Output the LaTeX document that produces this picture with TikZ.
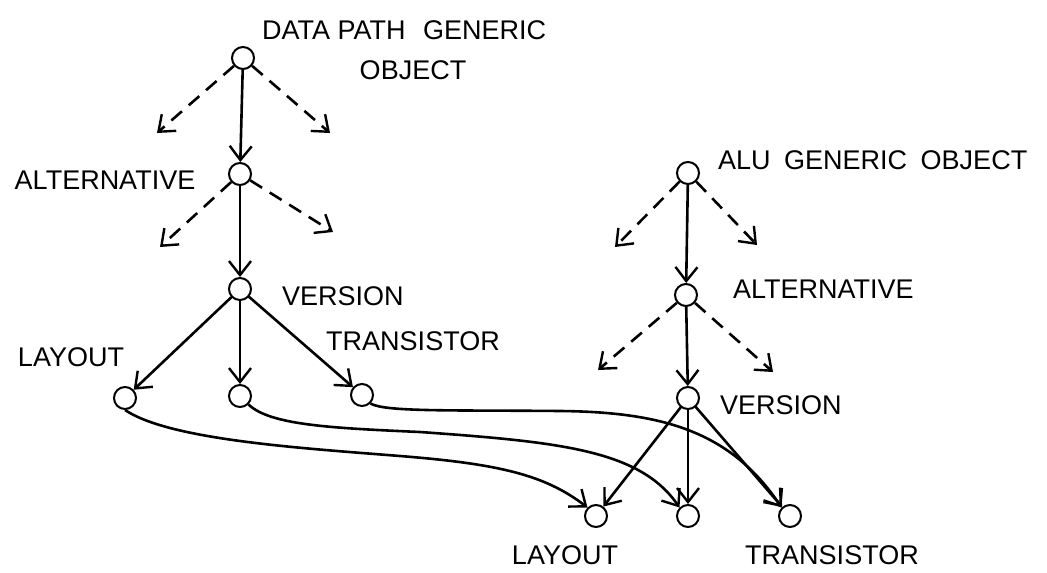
\documentclass[tikz,border=0pt]{standalone}
\usepackage{fontspec}
\setmainfont{Liberation Sans}
\usetikzlibrary{arrows.meta}
\begin{document}
\begin{tikzpicture}[x=1pt,y=-1pt,
  obj/.style={circle,draw,line width=2pt,minimum size=22pt,inner sep=0pt},
  lbl/.style={font=\fontsize{27}{27}\selectfont,inner sep=0pt},
  link/.style={line width=2.6pt,line cap=round,-{Straight Barb[length=14pt,width=22pt,line width=2.4pt]}},
  alt/.style={link,dash pattern=on 14pt off 9pt,line cap=butt},
  cross/.style={line width=2.6pt,-{Straight Barb[length=14pt,width=22pt,line width=2.4pt]}}]
\useasboundingbox (0,0) rectangle (1047,573);
% left tree
\node[obj] (dg) at (243,58) {};
\node[obj] (da) at (240,174) {};
\node[obj] (dv) at (240,289) {};
\node[obj] (dl) at (125,398) {};
\node[obj] (dm) at (240,396) {};
\node[obj] (dt) at (362,395) {};
\coordinate (dg1) at (157,133);
\coordinate (dg2) at (330,133);
\coordinate (da1) at (160,247);
\coordinate (da2) at (333,232);
% right tree
\node[obj] (ag) at (688,173) {};
\node[obj] (aa) at (686,295) {};
\node[obj] (av) at (688,398) {};
\node[obj] (al) at (596,516) {};
\node[obj] (am) at (688,516) {};
\node[obj] (at) at (790,516) {};
\coordinate (ag1) at (615,247);
\coordinate (ag2) at (757,245);
\coordinate (aa1) at (598,370);
\coordinate (aa2) at (773,372);
% labels
\node[lbl,anchor=west] (t1) at (262,30) {DATA PATH\hspace{10pt} GENERIC};
\node[lbl] (t2) at (413,70) {OBJECT};
\node[lbl] (t3) at (105,180) {ALTERNATIVE};
\node[lbl,anchor=west] (t4) at (282,296) {VERSION};
\node[lbl] (t5) at (71,357) {LAYOUT};
\node[lbl] (t6) at (413,341) {TRANSISTOR};
\node[lbl,anchor=west] (t7) at (718,160) {ALU\hspace{6pt} GENERIC\hspace{6pt} OBJECT};
\node[lbl,anchor=west] (t8) at (733,289) {ALTERNATIVE};
\node[lbl,anchor=west] (t9) at (720,405) {VERSION};
\node[lbl] (t10) at (565,555) {LAYOUT};
\node[lbl] (t11) at (832,555) {TRANSISTOR};
% left tree edges
\draw[link] (dg) -- (da);
\draw[link] (da) -- (dv);
\draw[alt] (dg) -- (dg1);
\draw[alt] (dg) -- (dg2);
\draw[alt] (da) -- (da1);
\draw[alt] (da) -- (da2);
\draw[link] (dv) -- (dl);
\draw[link] (dv) -- (dm);
\draw[link] (dv) -- (dt);
% right tree edges
\draw[link] (ag) -- (aa);
\draw[link] (aa) -- (av);
\draw[alt] (ag) -- (ag1);
\draw[alt] (ag) -- (ag2);
\draw[alt] (aa) -- (aa1);
\draw[alt] (aa) -- (aa2);
\draw[link] (av) -- (al);
\draw[link] (av) -- (am);
\draw[link] (av) -- (at);
% cross links
\draw[cross] (dl.south) .. controls (170,440) and (300,448) .. (400,456)
  .. controls (500,464) and (545,475) .. (al.north west);
\draw[cross] (dm.south east) .. controls (270,425) and (330,428) .. (420,432)
  .. controls (560,442) and (640,450) .. (am.north west);
\draw[cross] (dt.south east) .. controls (385,412) and (450,410) .. (560,411)
  .. controls (660,412) and (730,430) .. (at.north west);
\end{tikzpicture}
\end{document}
